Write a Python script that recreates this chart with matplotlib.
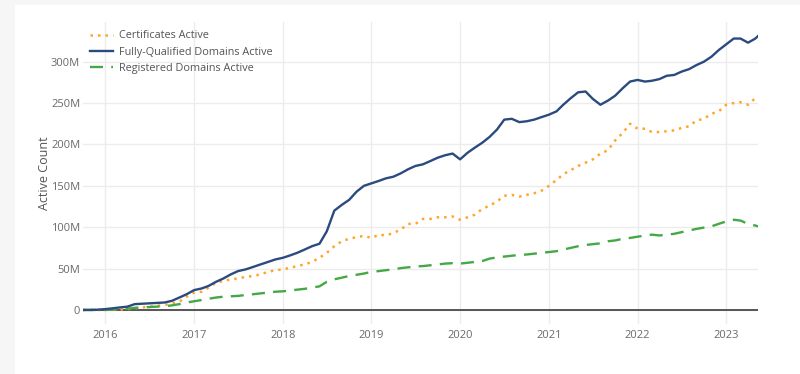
import matplotlib
matplotlib.use("Agg")
import matplotlib.pyplot as plt
import matplotlib.dates as mdates
import matplotlib.ticker as mticker
from matplotlib.patches import Rectangle
import pandas as pd

# monthly readings (millions), last point is the final partial month
dates = list(pd.date_range("2015-10-01", "2023-05-01", freq="MS")) + [pd.Timestamp("2023-05-12")]

fqdn_active = [
    0, 0, 0.3,
    1, 2, 3, 4, 7, 7.5, 8, 8.5, 9, 11, 15, 19,
    24, 26, 29, 34, 38, 43, 47, 49, 52, 55, 58, 61,
    63, 66, 69, 73, 77, 80, 95, 120, 127, 133, 143, 150,
    153, 156, 159, 161, 165, 170, 174, 176, 180, 184, 187, 189,
    182, 190, 196, 202, 209, 218, 230, 231, 227, 228, 230, 233,
    236, 240, 248, 256, 263, 264, 255, 248, 253, 259, 268, 276,
    278, 276, 277, 279, 283, 284, 288, 291, 296, 300, 306, 314,
    321, 328, 328, 323, 328, 331,
]
certs_active = [
    0, 0, 0,
    0, 0, 0.5, 1, 2, 3, 4, 5, 6, 8, 10, 16,
    21, 22, 27, 33, 35, 37, 38, 40, 41, 43, 46, 48,
    49, 51, 53, 55, 58, 63, 69, 77, 83, 86, 88, 89.5,
    87, 91, 90, 93, 97, 104, 104, 110, 110, 112, 112, 113,
    109, 112, 115, 122, 126, 131, 138, 139, 137, 139, 141, 144,
    150, 157, 164, 169, 174, 178, 182, 189, 193, 205, 214, 225,
    219, 219, 215, 215, 216, 217, 220, 222, 229, 231, 237, 240,
    248, 250, 251, 248, 256, 258,
]
regdom_active = [
    0, 0, 0,
    0, 0.5, 1, 1.5, 2.5, 3, 3.5, 4, 4.5, 5.5, 7, 9,
    10.5, 12, 13.5, 15, 16, 16.5, 17, 18, 19, 20, 21, 22,
    22.5, 23.5, 24.5, 25.5, 27, 28.5, 34, 37, 39, 41, 42.5, 44,
    46, 47, 48, 49, 50.5, 51.5, 52.5, 53, 54, 55, 56, 56.5,
    56, 57, 58, 59, 62, 63.5, 64.5, 65.5, 66.5, 67, 68, 69,
    70, 71, 73, 75, 77, 78.5, 79.5, 80.5, 83, 84, 86, 87,
    88.5, 90, 91, 90, 91, 92, 94, 96, 98, 99.5, 101, 104,
    107, 109, 108, 104, 102, 101,
]

plt.rcParams["font.family"] = ["Open Sans", "DejaVu Sans"]

fig = plt.figure(figsize=(8, 3.74), dpi=100, facecolor="#f6f6f6")
# white card on the light page background
card = Rectangle((15 / 800, 0), 1, 1 - 5 / 374, transform=fig.transFigure,
                 facecolor="white", edgecolor="none", zorder=-10)
fig.add_artist(card)
ax = fig.add_axes([83 / 800, 1 - 324 / 374, 675 / 800, 302 / 374])
ax.set_facecolor("white")

ax.plot(dates, certs_active, color="#ffa52c", lw=1.8, linestyle=(0, (1, 2)),
        label="Certificates Active", zorder=3)
ax.plot(dates, fqdn_active, color="#2b4a7e", lw=1.7,
        label="Fully-Qualified Domains Active", zorder=4)
ax.plot(dates, regdom_active, color="#44a844", lw=1.7, linestyle=(0, (5.5, 3.5)),
        label="Registered Domains Active", zorder=3)

ax.axhline(0, color="#555555", lw=1.4, zorder=2)

ax.set_xlim(pd.Timestamp("2015-10-01"), pd.Timestamp("2023-05-12"))
ax.set_ylim(-17, 348)

ax.xaxis.set_major_locator(mdates.YearLocator())
ax.xaxis.set_major_formatter(mdates.DateFormatter("%Y"))
ax.yaxis.set_major_locator(mticker.MultipleLocator(50))
ax.yaxis.set_major_formatter(mticker.FuncFormatter(lambda v, p: "0" if v == 0 else f"{int(v)}M"))

ax.grid(True, color="#ececec", lw=1)
ax.set_axisbelow(True)
for s in ax.spines.values():
    s.set_visible(False)
ax.tick_params(length=0, colors="#6a6a6a", labelsize=8)
ax.tick_params(axis="y", pad=2)
ax.tick_params(axis="x", pad=4)

fig.text(45 / 800, 1 - 173 / 374, "Active Count", rotation=90, ha="center", va="center",
         fontsize=9, color="#555555")

leg = ax.legend(loc="upper left", bbox_to_anchor=(85 / 800, 1 - 25 / 374),
                bbox_transform=fig.transFigure, frameon=False, fontsize=7.8,
                handlelength=2.1, handletextpad=0.55, labelspacing=0.5, borderpad=0)
for t in leg.get_texts():
    t.set_color("#555555")

fig.savefig("out.png", dpi=100, facecolor=fig.get_facecolor())
